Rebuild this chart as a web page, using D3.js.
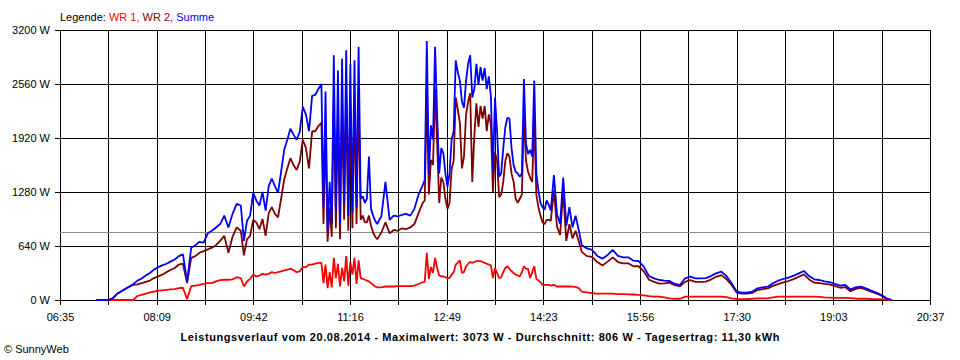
<!DOCTYPE html>
<html><head><meta charset="utf-8">
<script src="https://cdn.jsdelivr.net/npm/d3@7"></script>
<style>
body{margin:0;background:#fff}
svg{display:block}
text{font-family:"Liberation Sans",Arial,sans-serif;font-size:11px;fill:#000}
</style>
</head><body>
<svg id="c" width="960" height="360"></svg>
<script>
// ---------- data ----------
const times = [
"07:10","07:14","07:18","07:22","07:26","07:30","07:34","07:38","07:42","07:46","07:50","07:54","07:58",
"08:02","08:06","08:10","08:14","08:18","08:22","08:26","08:30","08:34","08:38","08:42","08:46","08:50","08:54","08:58",
"09:02","09:06","09:10","09:14","09:18","09:22","09:26","09:30",
"09:33","09:36","09:39","09:42","09:45","09:48","09:51","09:54","09:57",
"10:00","10:03","10:06","10:09","10:12","10:15","10:18","10:21","10:24","10:27","10:30","10:33","10:36","10:39","10:42","10:45","10:48",
"10:50","10:52","10:54","10:56","10:58",
"11:00","11:02","11:04","11:06","11:08","11:10","11:12","11:14","11:16","11:18","11:20","11:22","11:24","11:26","11:28","11:30","11:32","11:34","11:36","11:38","11:40","11:42","11:44","11:46",
"11:50","11:54","11:58","12:02","12:06","12:10","12:14","12:18","12:22","12:26",
"12:28","12:30","12:32","12:34","12:36","12:38","12:40","12:42","12:44","12:46","12:48","12:50","12:52","12:54","12:56","12:58",
"13:00","13:02","13:04","13:06","13:08","13:10","13:12","13:14","13:16","13:18","13:20","13:22","13:24","13:26","13:28","13:30","13:32","13:34","13:36","13:38","13:40","13:42","13:44","13:46","13:48","13:50","13:52","13:54","13:56","13:58",
"14:00","14:02","14:04","14:06","14:08","14:10","14:12","14:14","14:16","14:18","14:20","14:22","14:24","14:26","14:28","14:30",
"14:33","14:36","14:39","14:42","14:45","14:48","14:51","14:54","14:57","15:00",
"15:05","15:10","15:15","15:20","15:25","15:30","15:35","15:40","15:45","15:50","15:55",
"16:00","16:05","16:10","16:15","16:20","16:25","16:30","16:35","16:40","16:45","16:50","16:55",
"17:00","17:05","17:10","17:15","17:20","17:25","17:30","17:35","17:40","17:45","17:50","17:55",
"18:00","18:05","18:10","18:15","18:20","18:25","18:30","18:35","18:40","18:45","18:50","18:55",
"19:00","19:05","19:10","19:15","19:20","19:25","19:30","19:35","19:40","19:45","19:50","19:55",
"20:00"
];
const summe = [
0,0,0,0,20,70,100,130,160,190,230,255,290,
320,360,390,410,430,455,480,520,540,220,620,650,690,680,790,
820,860,900,1000,860,1020,1140,1120,
700,940,1000,1270,1180,1120,1280,1060,1350,
1440,1350,1270,1520,1780,1900,2030,1960,1900,1990,2290,2200,2000,2420,2430,2500,2560,
1100,2470,820,1400,900,
2900,1050,2720,900,2860,1150,2960,1000,2800,1050,2840,1100,3000,1200,1230,1150,1200,1700,1080,1000,940,900,950,990,
1400,950,1000,990,1010,1020,1000,1080,1250,1360,
1420,3070,1500,2070,1900,3000,2200,1500,1800,1740,1500,1340,1500,1900,2000,2840,
2700,2600,2350,2280,2600,2800,2900,2400,2500,2800,2550,2760,2600,2750,2500,2650,2420,1520,2400,2000,1460,1500,1800,2050,2160,2150,1800,1600,1520,1500,
1460,1500,2620,1850,1730,1780,1700,2600,1500,1300,1150,1100,1070,1180,1130,1060,
1480,1020,900,1450,880,1100,860,1000,830,650,
612,593,522,490,534,593,522,506,506,466,462,
395,284,257,237,229,225,190,178,257,276,257,257,
260,284,316,336,284,198,99,87,87,99,138,150,
158,198,229,249,265,288,316,344,284,245,237,221,
213,190,170,178,126,150,158,138,111,87,59,20,
0
];
const wr2 = [
0,0,0,0,20,70,100,130,155,180,185,200,215,
230,260,280,300,330,355,380,420,430,200,500,520,560,580,600,
620,650,700,760,560,750,860,820,
530,720,760,950,920,840,960,760,1030,
1100,1020,980,1200,1430,1560,1680,1600,1540,1640,1900,1800,1560,2000,2000,2060,2100,
900,2000,690,1100,750,
2400,850,2240,720,2370,950,2440,820,2280,850,2330,900,2480,950,1000,920,920,1000,880,800,750,720,760,800,
920,790,830,820,850,840,860,900,1030,1150,
1180,2500,1250,1660,1600,2500,1850,1150,1450,1400,1200,1080,1150,1550,1650,2400,
2260,2100,1560,1700,2200,2350,2450,1400,1950,2330,2050,2300,2150,2300,2000,2200,2080,1280,1750,1650,1220,1250,1400,1650,1740,1700,1500,1400,1200,1150,
1200,1250,2200,1650,1520,1450,1400,2150,1250,1100,1000,920,900,950,950,940,
1300,870,770,1280,700,900,730,820,700,570,
520,510,450,410,455,505,450,435,435,400,400,
340,240,215,195,198,205,175,163,215,236,215,215,
218,242,275,295,248,178,86,77,75,84,118,130,
138,168,189,209,225,248,276,304,244,205,199,191,
185,165,145,153,104,132,143,123,99,77,51,15,
0
];
const wr1 = [
0,0,0,0,0,0,0,0,0,0,50,60,75,
90,100,110,115,120,125,130,140,145,10,165,170,180,190,200,
200,220,235,240,240,245,270,260,
160,220,250,300,280,290,310,300,310,
330,320,330,340,350,360,370,355,330,340,390,390,420,420,430,440,440,
200,420,140,330,150,
500,260,430,160,380,220,520,170,450,300,500,190,470,260,250,240,230,220,200,180,160,150,150,150,
160,160,160,165,165,165,165,170,190,210,
215,560,250,390,320,500,380,290,280,280,270,260,260,300,330,420,
440,470,320,330,400,430,450,440,450,460,460,460,450,440,430,420,410,260,380,320,260,270,330,380,400,370,340,320,300,290,
280,330,400,370,370,260,330,400,250,230,210,180,180,180,180,170,
180,160,160,160,160,160,158,155,140,99,
90,80,75,75,75,75,70,70,67,65,60,
55,45,40,40,30,20,15,15,40,40,40,40,
40,40,40,40,35,20,12,10,12,15,20,20,
20,30,40,40,40,40,40,40,40,40,38,30,
28,25,25,25,22,18,15,15,12,10,8,5,
0
];
const yTicks = [0, 640, 1280, 1920, 2560, 3200];
const xTickLabels = ["06:35","08:09","09:42","11:16","12:49","14:23","15:56","17:30","19:03","20:37"];
const dayStart = "06:35", dayEnd = "20:37";
const average = 806;
const maxValue = 3073;
const dateLabel = "20.08.2014";
const dayYield = "11,30";
const seriesNames = ["WR 1", "WR 2", "Summe"];
const seriesColors = ["#ff0000", "#800000", "#0000ff"];

// ---------- chart ----------
const parse = d3.timeParse("%H:%M");
const svg = d3.select("#c");
const x = d3.scaleTime().domain([parse(dayStart), parse(dayEnd)]).range([60, 930]);
const y = d3.scaleLinear().domain([0, 3200]).range([300, 30]);

const t0 = parse(dayStart).getTime(), t1 = parse(dayEnd).getTime();
const xTicks = d3.range(19).map(i => new Date(t0 + i * (t1 - t0) / 18));

// vertical grid + ticks
const gx = svg.append("g").attr("transform", "translate(0,30)")
  .call(d3.axisBottom(x).tickValues(xTicks).tickSizeInner(275).tickSizeOuter(0).tickPadding(8)
    .tickFormat((d, i) => i % 2 === 0 ? xTickLabels[i / 2] : ""));
gx.select(".domain").remove();
gx.selectAll("line").attr("stroke", "#000").attr("shape-rendering", "crispEdges");
gx.attr("font-family", null).attr("font-size", null);

// horizontal grid + ticks
const gy = svg.append("g").attr("transform", "translate(930,0)")
  .call(d3.axisLeft(y).tickValues(yTicks).tickSizeInner(875).tickSizeOuter(0).tickPadding(5)
    .tickFormat(d => d + " W"));
gy.select(".domain").remove();
gy.selectAll("line").attr("stroke", "#000").attr("shape-rendering", "crispEdges");
gy.selectAll("text").attr("dy", "0.36em");
gy.attr("font-family", null).attr("font-size", null);

// average line
svg.append("line").attr("x1", 60).attr("x2", 930)
  .attr("y1", Math.round(y(average)) + 0.5).attr("y2", Math.round(y(average)) + 0.5)
  .attr("stroke", "#8c8c8c").attr("shape-rendering", "crispEdges");

const tParsed = times.map(parse);
const seriesData = [wr1, wr2, summe];
seriesData.forEach((vals, k) => {
  const line = d3.line().x((d, i) => x(tParsed[i])).y(d => y(d)).curve(d3.curveLinear);
  svg.append("path").datum(vals).attr("d", line)
    .attr("fill", "none").attr("stroke", seriesColors[k]).attr("stroke-width", 1.8)
    .attr("stroke-linejoin", "bevel");
});

// legend
const leg = svg.append("text").attr("x", 60).attr("y", 21);
leg.append("tspan").text("Legende: ");
seriesNames.forEach((n, k) => {
  leg.append("tspan").style("fill", seriesColors[k])
    .text(n + (k < seriesNames.length - 1 ? ", " : ""));
});

// title
svg.append("text").attr("x", 480).attr("y", 341).attr("text-anchor", "middle")
  .attr("textLength", 599).attr("lengthAdjust", "spacing")
  .style("font-weight", "bold")
  .text(`Leistungsverlauf vom ${dateLabel} - Maximalwert: ${maxValue} W - Durchschnitt: ${average} W - Tagesertrag: ${dayYield} kWh`);

svg.append("text").attr("x", 4).attr("y", 353).text("© SunnyWeb");
</script>
</body></html>
